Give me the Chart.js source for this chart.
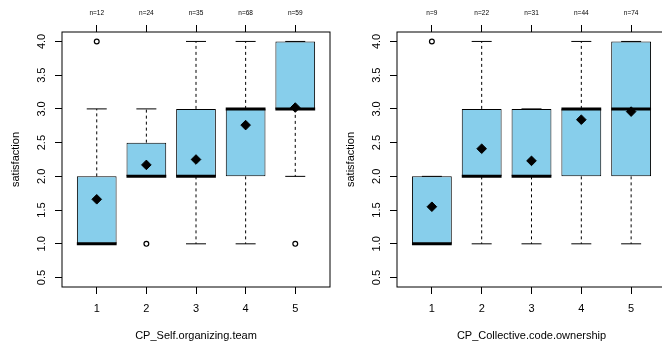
<!DOCTYPE html>
<html lang="en">
<head>
<meta charset="UTF-8">
<title>Satisfaction by practice level</title>
<script src="https://cdn.jsdelivr.net/npm/chart.js@4"></script>
<style>
  body { margin: 0; width: 662px; height: 345px; overflow: hidden; background: #fff; position: relative; }
  .panel { position: absolute; top: 0; height: 345px; }
  #left { left: 0; width: 331px; }
  #right { left: 331px; width: 340px; }
</style>
</head>
<body>
<div class="panel" id="left"><canvas id="c1" width="331" height="345"></canvas></div>
<div class="panel" id="right"><canvas id="c2" width="340" height="345"></canvas></div>
<script>
// data
const categories = [1, 2, 3, 4, 5];
const yTicks = [0.5, 1.0, 1.5, 2.0, 2.5, 3.0, 3.5, 4.0];

const selfN = [12, 24, 35, 68, 59];
const selfQ1 = [1, 2, 2, 2, 3];
const selfMed = [1, 2, 2, 3, 3];
const selfQ3 = [2, 2.5, 3, 3, 4];
const selfLo = [1, 2, 1, 1, 2];
const selfHi = [3, 3, 4, 4, 4];
const selfMean = [1.66, 2.17, 2.25, 2.76, 3.02];
const selfOut = [[4], [1], [], [], [1]];

const collN = [9, 22, 31, 44, 74];
const collQ1 = [1, 2, 2, 2, 2];
const collMed = [1, 2, 2, 3, 3];
const collQ3 = [2, 3, 3, 3, 4];
const collLo = [1, 1, 1, 1, 1];
const collHi = [2, 4, 3, 4, 4];
const collMean = [1.55, 2.41, 2.23, 2.84, 2.96];
const collOut = [[4], [], [], [], []];

Chart.defaults.font.family = '"Liberation Sans", Arial, Helvetica, sans-serif';
Chart.defaults.color = '#000';

const frame = {
  id: 'frame',
  afterDatasetsDraw(chart) {
    const { ctx, chartArea: a } = chart;
    ctx.save();
    ctx.strokeStyle = '#000';
    ctx.lineWidth = 1;
    ctx.strokeRect(a.left, a.top, a.right - a.left, a.bottom - a.top);
    ctx.restore();
  }
};

const setTicks = vals => s => { s.ticks = vals.map(v => ({ value: v })); };
const fixHeight = h => s => { s.height = h; s.paddingLeft = 0; s.paddingRight = 0; };

function makeChart(id, title, n, q1, med, q3, lo, hi, mean, out, padL, padR) {
  const whiskers = [];
  categories.forEach((c, i) => {
    whiskers.push({ x: c, y: q3[i] }, { x: c, y: hi[i] }, { x: c, y: null });
    whiskers.push({ x: c, y: q1[i] }, { x: c, y: lo[i] }, { x: c, y: null });
  });
  const staples = categories.flatMap((c, i) => [{ x: c, y: lo[i] }, { x: c, y: hi[i] }]);
  const outliers = categories.flatMap((c, i) => out[i].map(v => ({ x: c, y: v })));

  return new Chart(document.getElementById(id), {
    type: 'bar',
    data: {
      datasets: [
        {
          type: 'scatter', order: 0,
          data: categories.map((c, i) => ({ x: c, y: mean[i] })),
          pointStyle: 'rectRot', pointRadius: 4.8,
          pointBackgroundColor: '#000', pointBorderColor: '#000', pointBorderWidth: 1
        },
        {
          type: 'scatter', order: 1,
          data: categories.map((c, i) => ({ x: c, y: med[i] })),
          pointStyle: 'line', pointRadius: 19.9,
          pointBorderColor: '#000', pointBorderWidth: 3
        },
        {
          type: 'scatter', order: 2,
          data: outliers,
          pointStyle: 'circle', pointRadius: 2.4,
          pointBackgroundColor: '#fff', pointBorderColor: '#000', pointBorderWidth: 1.2
        },
        {
          type: 'scatter', order: 3,
          data: staples,
          pointStyle: 'line', pointRadius: 10,
          pointBorderColor: '#000', pointBorderWidth: 1
        },
        {
          type: 'line', order: 4,
          data: whiskers,
          borderColor: '#000', borderWidth: 1, borderDash: [3, 3],
          pointRadius: 0, spanGaps: false, fill: false
        },
        {
          type: 'bar', order: 5,
          data: categories.map((c, i) => ({ x: c, y: [q1[i], q3[i]] })),
          backgroundColor: '#87CEEB', borderColor: '#000', borderWidth: 1,
          borderSkipped: false, barPercentage: 0.8, categoryPercentage: 1.0
        }
      ]
    },
    options: {
      responsive: false,
      animation: false,
      events: [],
      layout: { autoPadding: false, padding: { left: padL, right: padR, top: 0, bottom: 0 } },
      plugins: { legend: { display: false }, tooltip: { enabled: false } },
      scales: {
        x: {
          type: 'linear', position: 'bottom', min: 0.3, max: 5.7, offset: false,
          afterBuildTicks: setTicks(categories),
          afterFit: fixHeight(58),
          grid: { drawOnChartArea: false, offset: false, tickLength: 7, color: '#000', tickColor: '#000' },
          border: { display: false },
          ticks: { padding: 8, maxRotation: 0, font: { size: 11 }, color: '#000', callback: v => String(v) },
          title: { display: true, text: title, font: { size: 11 }, color: '#000', padding: { top: 0, bottom: 2 } }
        },
        xTop: {
          type: 'linear', position: 'top', min: 0.3, max: 5.7, offset: false,
          afterBuildTicks: setTicks(categories),
          afterFit: fixHeight(32),
          grid: { drawOnChartArea: false, offset: false, tickLength: 7, color: '#000', tickColor: '#000' },
          border: { display: false },
          ticks: { padding: 7.5, maxRotation: 0, font: { size: 6.5 }, color: '#000', callback: (v, i) => 'n=' + n[i] }
        },
        y: {
          type: 'linear', min: 0.36, max: 4.14,
          afterBuildTicks: setTicks(yTicks),
          afterFit: s => { s.width = 62; },
          grid: { drawOnChartArea: false, tickLength: 7, color: '#000', tickColor: '#000' },
          border: { display: false },
          ticks: { minRotation: 90, maxRotation: 90, crossAlign: 'center', padding: 5, font: { size: 11 }, color: '#000', callback: v => v.toFixed(1) },
          title: { display: true, text: 'satisfaction', font: { size: 11 }, color: '#000', padding: { top: 9.4, bottom: 0 } }
        }
      }
    },
    plugins: [frame]
  });
}

makeChart('c1', 'CP_Self.organizing.team', selfN, selfQ1, selfMed, selfQ3, selfLo, selfHi, selfMean, selfOut, 0, 1);
makeChart('c2', 'CP_Collective.code.ownership', collN, collQ1, collMed, collQ3, collLo, collHi, collMean, collOut, 4, 5);
</script>
</body>
</html>
